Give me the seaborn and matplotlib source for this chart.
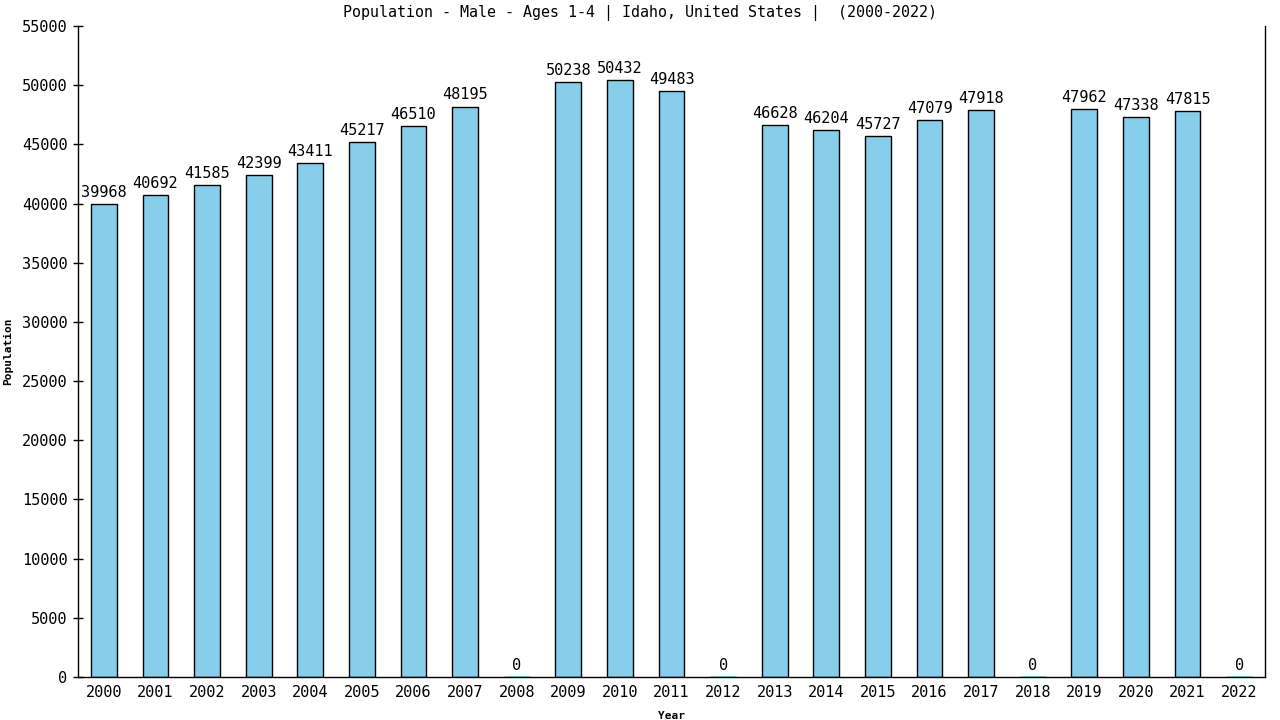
import matplotlib

matplotlib.use("Agg")
import matplotlib.pyplot as plt
import pandas as pd
import seaborn as sns


YEARS = [str(y) for y in range(2000, 2023)]
POPULATION = [
    39968, 40692, 41585, 42399, 43411, 45217, 46510, 48195, 0,
    50238, 50432, 49483, 0, 46628, 46204, 45727, 47079, 47918, 0,
    47962, 47338, 47815, 0,
]
Y_TICKS = list(range(0, 55001, 5000))
TITLE = "Population - Male - Ages 1-4 | Idaho, United States |  (2000-2022)"

BAR_COLOR = "#87ceeb"
FONT = "DejaVu Sans Mono"


def main() -> None:
    df = pd.DataFrame({"year": YEARS, "population": POPULATION})

    sns.set_theme(style="white")
    plt.rcParams["font.family"] = [FONT, "DejaVu Sans"]
    plt.rcParams["text.color"] = "black"
    plt.rcParams["axes.labelcolor"] = "black"
    plt.rcParams["xtick.color"] = "black"
    plt.rcParams["ytick.color"] = "black"

    fig = plt.figure(figsize=(12.8, 7.2), dpi=100)
    ax = fig.add_axes([78 / 1280, 43 / 720, (1265 - 78) / 1280, (677 - 26) / 720])

    sns.barplot(
        data=df,
        x="year",
        y="population",
        color=BAR_COLOR,
        saturation=1,
        width=0.5,
        edgecolor="black",
        linewidth=1,
        ax=ax,
    )

    # zero-height bars show only as a thin blue line in the reference
    for patch, val in zip(ax.patches, POPULATION):
        if val == 0:
            patch.set_edgecolor(BAR_COLOR)
            patch.set_linewidth(2)

    ax.bar_label(ax.containers[0], padding=3, fontsize=11, family=FONT, color="black")

    ax.set_xlim(-0.5, len(YEARS) - 0.5)
    ax.set_ylim(0, 55000)
    ax.set_yticks(Y_TICKS)
    ax.set_yticklabels([str(t) for t in Y_TICKS])

    ax.tick_params(axis="y", direction="inout", length=7, width=1, color="black",
                   labelsize=11, pad=4, left=True)
    ax.tick_params(axis="x", length=0, labelsize=11, pad=6)

    for side in ["left", "bottom", "right"]:
        ax.spines[side].set_visible(True)
        ax.spines[side].set_color("black")
        ax.spines[side].set_linewidth(1)
    ax.spines["top"].set_visible(False)

    ax.set_xlabel("Year", fontsize=8, fontweight="bold", labelpad=8)
    ax.set_ylabel("Population", fontsize=8, fontweight="bold", labelpad=6)
    fig.text(0.5, 1 - 13 / 720, TITLE, fontsize=10.8, ha="center", va="center")
    ax.grid(False)

    fig.savefig("out.png", dpi=100)
    plt.close(fig)


if __name__ == "__main__":
    main()
